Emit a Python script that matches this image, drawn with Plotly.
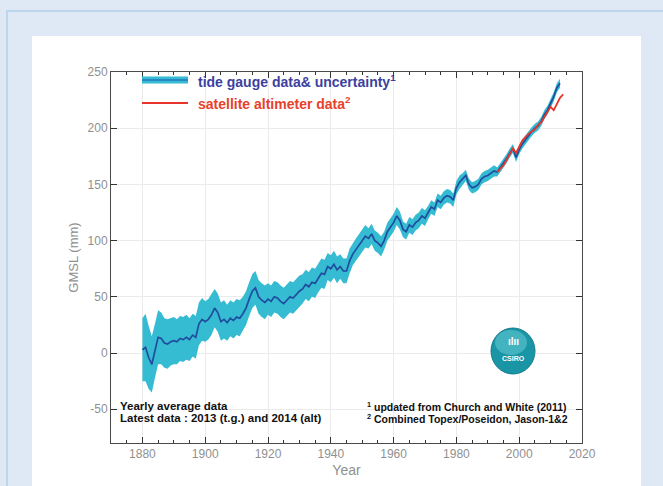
import plotly.graph_objects as go

# ---------------- data ----------------
years = list(range(1880, 2014))
gmsl = [3, 5, -4, -10, 2, 14, 13, 9, 8, 10,
        11, 10, 13, 12, 14, 12, 16, 14, 26, 30,
        28, 30, 34, 40, 36, 28, 30, 27, 31, 29,
        32, 31, 35, 40, 48, 55, 58, 50, 47, 45,
        48, 46, 50, 49, 46, 44, 47, 50, 49, 52,
        55, 57, 61, 59, 63, 62, 67, 71, 70, 77,
        75, 79, 74, 77, 73, 73, 82, 88, 92, 96,
        100, 104, 102, 106, 100, 98, 95, 100, 108, 112,
        116, 122, 118, 110, 108, 114, 112, 116, 118, 122,
        120, 125, 130, 128, 136, 134, 138, 140, 139, 136,
        147, 152, 155, 158, 150, 147, 148, 150, 155, 157,
        158, 160, 162, 161, 165, 168, 173, 178, 182, 174,
        181, 186, 190, 194, 197, 200, 202, 206, 212, 216,
        222, 228, 236, 240]
uncertainty = [28, 30, 28, 25, 24, 24, 23, 22, 22, 21,
               21, 20, 20, 20, 20, 19, 19, 19, 19, 19,
               18, 18, 18, 17, 17, 17, 17, 16, 16, 16,
               16, 16, 15, 15, 15, 15, 15, 15, 15, 15,
               14, 14, 14, 14, 14, 14, 14, 14, 14, 14,
               14, 13, 13, 13, 13, 13, 13, 13, 13, 12,
               12, 12, 12, 11, 11, 11, 11, 10, 10, 10,
               10, 10, 9, 9, 9, 9, 9, 8, 8, 8,
               8, 8, 8, 7, 7, 7, 7, 7, 7, 7,
               7, 6, 6, 6, 6, 6, 6, 6, 6, 6,
               6, 6, 5, 5, 5, 5, 5, 5, 5, 5,
               5, 5, 5, 4, 4, 4, 4, 4, 4, 4,
               4, 4, 4, 4, 4, 4, 4, 4, 4, 4,
               4, 4, 4, 4]
sat_years = list(range(1993, 2015))
sat_gmsl = [161, 164, 167, 172, 177, 182, 178, 183, 189, 192,
            195, 197, 199, 203, 205, 210, 214, 219, 216, 222,
            227, 230]
x_ticks = [1880, 1900, 1920, 1940, 1960, 1980, 2000, 2020]
y_ticks = [-50, 0, 50, 100, 150, 200, 250]

# ---------------- geometry helpers (pixels -> paper) ----------------
W, H = 663, 486
L, R, T, B = 111, 582, 72, 443


def px(X):
    return (X - L) / (R - L)


def py(Y):
    return (B - Y) / (B - T)


upper = [g + u for g, u in zip(gmsl, uncertainty)]
lower = [g - u for g, u in zip(gmsl, uncertainty)]

fig = go.Figure()
fig.add_trace(go.Scatter(x=years, y=upper, mode="lines", line=dict(width=0, color="#35bbd2"),
                         hoverinfo="skip", showlegend=False))
fig.add_trace(go.Scatter(x=years, y=lower, mode="lines", line=dict(width=0, color="#35bbd2"),
                         fill="tonexty", fillcolor="#35bbd2", hoverinfo="skip", showlegend=False))
fig.add_trace(go.Scatter(x=years, y=gmsl, mode="lines", line=dict(width=1.7, color="#1f4e9e"),
                         name="tide gauge data& uncertainty", showlegend=False))
fig.add_trace(go.Scatter(x=sat_years, y=sat_gmsl, mode="lines", line=dict(width=1.8, color="#e8352b"),
                         name="satellite altimeter data", showlegend=False))

shapes = [
    # outer border of the page panel
    dict(type="rect", xref="paper", yref="paper", layer="below",
         x0=px(7), x1=px(720), y0=py(11), y1=py(600),
         line=dict(color="#bcd6ee", width=2), fillcolor="#dfe9f6"),
    # white card
    dict(type="rect", xref="paper", yref="paper", layer="below",
         x0=px(32), x1=px(641), y0=py(36), y1=py(600),
         line=dict(width=0), fillcolor="#ffffff"),
    # legend samples
    dict(type="line", xref="paper", yref="paper", x0=px(142), x1=px(188), y0=py(80), y1=py(80),
         line=dict(color="#35bbd2", width=7)),
    dict(type="line", xref="paper", yref="paper", x0=px(142), x1=px(188), y0=py(80), y1=py(80),
         line=dict(color="#2a86c4", width=2)),
    dict(type="line", xref="paper", yref="paper", x0=px(142), x1=px(188), y0=py(103), y1=py(103),
         line=dict(color="#e8352b", width=2)),
    # CSIRO logo
    dict(type="circle", xref="paper", yref="paper", x0=px(491), x1=px(535), y0=py(328), y1=py(374),
         line=dict(color="#137c8c", width=1), fillcolor="#1a95a6"),
    dict(type="circle", xref="paper", yref="paper", x0=px(495), x1=px(527), y0=py(330), y1=py(355),
         line=dict(width=0), fillcolor="rgba(120,215,225,0.45)"),
]


def note(X, Y, text, size, color, anchor="left"):
    return dict(x=px(X), y=py(Y), xref="paper", yref="paper", xanchor=anchor, yanchor="middle",
                showarrow=False, text=text, font=dict(size=size, color=color))


annotations = [
    note(196, 81, "<b>tide gauge data& uncertainty<sup>1</sup></b>", 14, "#3d3f9e"),
    note(196, 103, "<b>satellite altimeter data<sup>2</sup></b>", 14, "#e8412b"),
    note(118, 406, "<b>Yearly average data</b>", 11.5, "#111111"),
    note(118, 418, "<b>Latest data : 2013 (t.g.) and 2014 (alt)</b>", 11.5, "#111111"),
    note(365, 406, "<b><sup>1</sup> updated from Church and White (2011)</b>", 10.5, "#111111"),
    note(365, 418, "<b><sup>2</sup> Combined Topex/Poseidon, Jason-1&2</b>", 10.5, "#111111"),
    note(513, 358, "<b>CSIRO</b>", 7, "#ffffff", "center"),
    note(513, 341, "<b>ılıı</b>", 10, "#ffffff", "center"),
]

axis_common = dict(
    showline=True, linecolor="#4a4a4a", linewidth=1, mirror="allticks",
    ticks="inside", ticklen=6, tickcolor="#333333", tickwidth=1,
    showgrid=True, gridcolor="#ebebeb", gridwidth=1, zeroline=False,
    tickfont=dict(size=12, color="#8f8f8f"),
)

fig.update_layout(
    template="none",
    width=W, height=H,
    margin=dict(l=L, r=W - R, t=T, b=H - B, autoexpand=False),
    paper_bgcolor="#dfe9f6", plot_bgcolor="#ffffff",
    font=dict(family="Liberation Sans, Arial, sans-serif"),
    shapes=shapes, annotations=annotations, showlegend=False,
    xaxis=dict(range=[1870, 2020], tickvals=x_ticks, ticktext=[str(v) for v in x_ticks],
               minor=dict(dtick=5, tick0=1870, ticks="inside", ticklen=3, tickcolor="#333333", showgrid=False),
               title=dict(text="Year", font=dict(size=14, color="#8f8f8f"), standoff=4),
               **axis_common),
    yaxis=dict(range=[-80, 250], tickvals=y_ticks, ticktext=[str(v) for v in y_ticks],
               title=dict(text="GMSL (mm)", font=dict(size=13, color="#8f8f8f"), standoff=6),
               **axis_common),
)

fig.write_html("out.html", config={"displayModeBar": False},
               post_script="document.body.style.margin='0';")
